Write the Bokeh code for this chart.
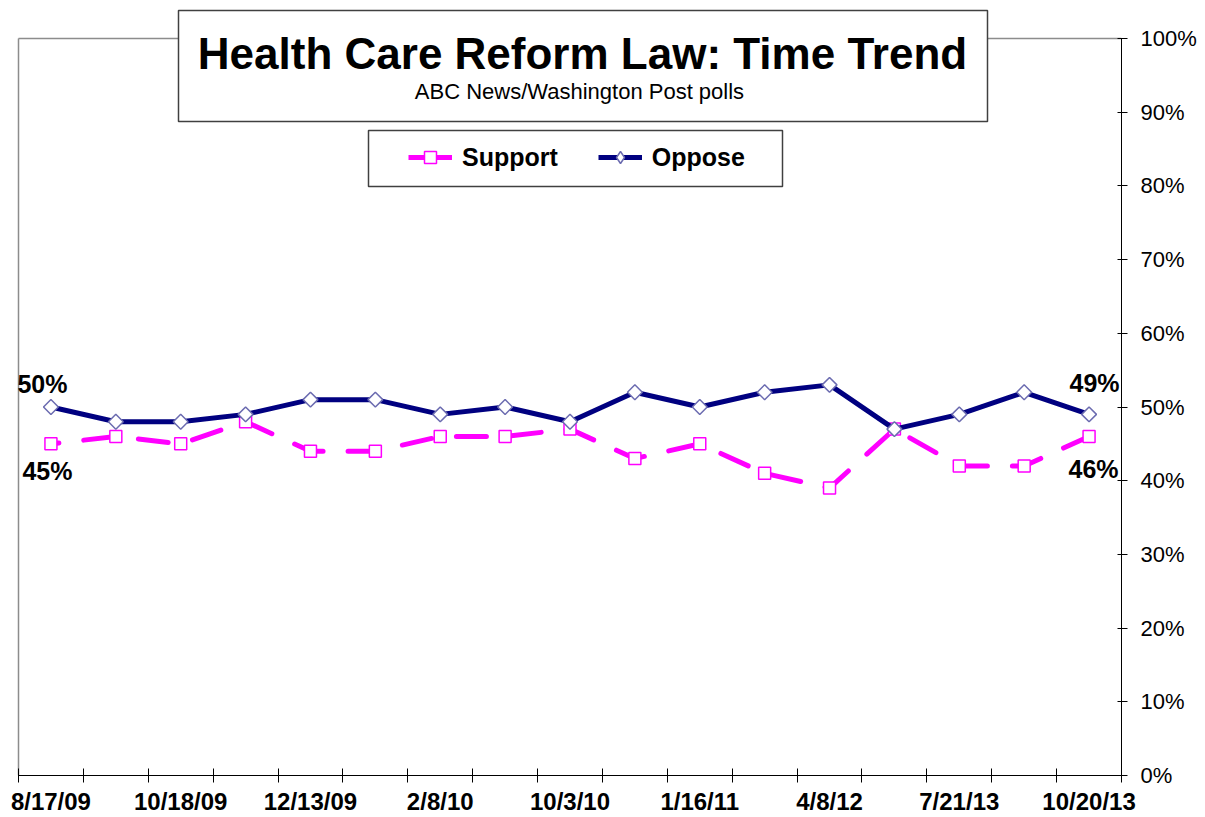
import numpy as np
from bokeh.plotting import figure
from bokeh.models import Range1d, FixedTicker, Label, Legend, LegendItem, ColumnDataSource
from bokeh.core.properties import value
from bokeh.embed import file_html
from bokeh.resources import INLINE

# ---------------- data ----------------
title_text = "Health Care Reform Law: Time Trend"
subtitle_text = "ABC News/Washington  Post polls"
series_names = ["Support", "Oppose"]
support = [45, 46, 45, 48, 44, 44, 46, 46, 47, 43, 45, 41, 39, 47, 42, 42, 46]
oppose = [50, 48, 48, 49, 51, 51, 49, 50, 48, 52, 50, 52, 53, 47, 49, 52, 49]
x_tick_labels = ["8/17/09", "10/18/09", "12/13/09", "2/8/10", "10/3/10",
                 "1/16/11", "4/8/12", "7/21/13", "10/20/13"]
y_ticks = [0, 10, 20, 30, 40, 50, 60, 70, 80, 90, 100]
y_tick_labels = ["0%", "10%", "20%", "30%", "40%", "50%", "60%", "70%", "80%", "90%", "100%"]

# ---------------- layout helpers ----------------
FONT = "Liberation Sans"
n = len(support)
PX_X = 1103 / n          # pixels per category
PX_Y = 737 / 100         # pixels per percentage point
FW, FH = 1113, 767       # frame size
x_start = -0.5 - 10 / PX_X
x_end = n - 0.5
y_end = 100 + 30 / PX_Y


def dx(fx):
    return x_start + fx / PX_X


def dy(fy):
    return y_end - fy / PX_Y


p = figure(frame_width=FW, frame_height=FH,
           x_range=Range1d(x_start, x_end), y_range=Range1d(0, y_end),
           y_axis_location="right", output_backend="svg", toolbar_location=None,
           min_border_left=8, min_border_top=8, min_border_bottom=0, min_border_right=76,
           background_fill_color="white", border_fill_color="white")
p.title.visible = False
p.outline_line_color = None
p.grid.visible = False

# plot-area border (grey top & left)
p.segment(x0=[-0.5, -0.5], y0=[0, 100], x1=[-0.5, x_end], y1=[100, 100],
          line_color="#8c8c8c", line_width=1.5)

# title box and legend box
p.quad(left=[dx(170)], right=[dx(979)], top=[dy(2)], bottom=[dy(113)],
       fill_color="white", line_color="#404040", line_width=1.5)
p.quad(left=[dx(360)], right=[dx(774)], top=[dy(122)], bottom=[dy(178)],
       fill_color="white", line_color="#404040", line_width=1.5)

# series
src = ColumnDataSource(dict(x=list(range(n)), support=support, oppose=oppose))
sl = p.line("x", "support", source=src, line_color="#FF00FF", line_width=5,
            line_dash="30 25", line_dash_offset=22, line_cap="round", line_join="round")
sm = p.scatter("x", "support", source=src, marker="square", size=12,
               fill_color="white", line_color="#FF00FF", line_width=1.5)
ol = p.line("x", "oppose", source=src, line_color="#000080", line_width=5, line_join="round")
om = p.scatter("x", "oppose", source=src, marker="square", angle=np.pi / 4, size=10.5,
               fill_color="white", line_color="#6B6BB0", line_width=1.5)

# legend-only glyph samples (solid line, diamond marker); hidden in the plot
leg_sl = p.line("x", "support", source=src, line_color="#FF00FF", line_width=5, visible=False)
leg_om = p.scatter("x", "oppose", source=src, marker="diamond", fill_color="white",
                   line_color="#6B6BB0", line_width=1.5, visible=False)

# x axis
label_idx = list(range(0, n, 2))
xa = p.xaxis[0]
xa.ticker = FixedTicker(ticks=label_idx, minor_ticks=[i - 0.5 for i in range(n + 1)])
xa.major_label_overrides = {i: lab for i, lab in zip(label_idx, x_tick_labels)}
xa.bounds = (-0.5, x_end)
xa.axis_line_color = "black"
xa.axis_line_width = 1
xa.major_tick_line_color = None
xa.major_tick_in = 0
xa.major_tick_out = 0
xa.minor_tick_line_color = "black"
xa.minor_tick_in = 7
xa.minor_tick_out = 7
xa.major_label_standoff = 5
xa.major_label_text_font = FONT
xa.major_label_text_font_size = "24px"
xa.major_label_text_font_style = "bold"
xa.major_label_text_color = "black"

# y axis (right)
ya = p.yaxis[0]
ya.ticker = FixedTicker(ticks=y_ticks, minor_ticks=[])
ya.major_label_overrides = {v: lab for v, lab in zip(y_ticks, y_tick_labels)}
ya.bounds = (0, 100)
ya.axis_line_color = "black"
ya.major_tick_line_color = "black"
ya.major_tick_in = 4
ya.major_tick_out = 6
ya.minor_tick_line_color = None
ya.major_label_standoff = 13
ya.major_label_text_font = FONT
ya.major_label_text_font_size = "22px"
ya.major_label_text_font_style = "normal"
ya.major_label_text_color = "black"

# title texts
p.add_layout(Label(x=dx(574), y=dy(44.5), text=title_text, text_font=FONT,
                   text_font_size="44px", text_font_style="bold",
                   text_align="center", text_baseline="middle", text_color="black"))
p.add_layout(Label(x=dx(574), y=dy(83), text=subtitle_text, text_font=FONT,
                   text_font_size="22px", text_font_style="normal",
                   text_align="center", text_baseline="middle", text_color="black"))

# legend
legend = Legend(items=[LegendItem(label=series_names[0], renderers=[leg_sl, sm]),
                       LegendItem(label=series_names[1], renderers=[ol, leg_om])],
                orientation="horizontal", location=(400, FH - 164),
                padding=0, margin=0, spacing=40, glyph_width=44, glyph_height=30,
                label_height=30, label_standoff=10, label_text_font=FONT,
                label_text_font_size="25px", label_text_font_style="bold",
                label_text_color="black", click_policy="none",
                border_line_alpha=0, background_fill_alpha=0)
p.add_layout(legend)

# end-point value labels
ann = ColumnDataSource(dict(
    x=[0, 0, n - 1, n - 1],
    y=[oppose[0], support[0], oppose[-1], support[-1]],
    text=[f"{oppose[0]}%", f"{support[0]}%", f"{oppose[-1]}%", f"{support[-1]}%"],
    xo=[-33.5, -28.5, -19.5, -20.5],
    yo=[-23.0, 27.6, -30.9, 33.0],
))
p.text("x", "y", text="text", x_offset="xo", y_offset="yo", source=ann,
       text_font=value(FONT), text_font_size="25px", text_font_style="bold",
       text_align="left", text_baseline="middle", text_color="black")

open("out.html", "w").write(file_html(p, INLINE))
